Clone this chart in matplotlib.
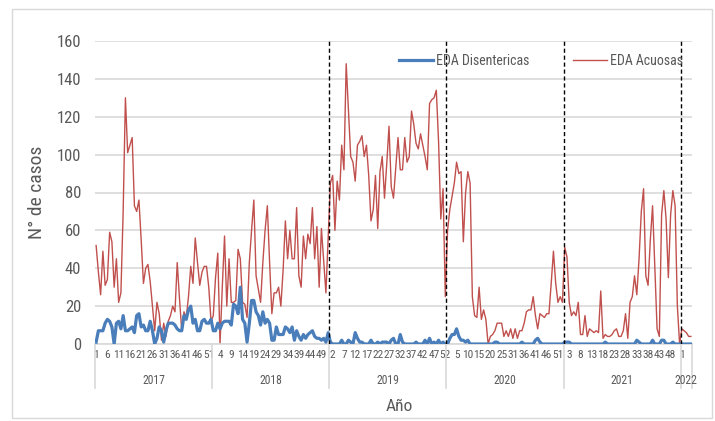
import numpy as np
import matplotlib
matplotlib.use("Agg")
import matplotlib.pyplot as plt
import matplotlib.transforms as mtransforms
from matplotlib import font_manager as fm
from matplotlib.patches import Rectangle

# weekly cases per year
years = ['2017', '2018', '2019', '2020', '2021', '2022']
weeks_2017 = list(range(1, 53))
weeks_2018 = list(range(1, 53))
weeks_2019 = list(range(1, 53))
weeks_2020 = list(range(1, 28)) + list(range(29, 54))
weeks_2021 = list(range(1, 53))
weeks_2022 = list(range(1, 6))

acuosas_2017 = [52, 38, 26, 49, 31, 34, 59, 54, 30, 45, 22, 27, 70, 130, 101, 105, 109, 73, 70, 76,
                55, 32, 40, 42, 33, 20, 7, 22, 16, 2, 11, 4, 12, 15, 20, 17, 43, 24, 7, 17,
                14, 25, 41, 32, 56, 43, 31, 38, 41, 41, 30, 12]
acuosas_2018 = [15, 35, 48, 0, 30, 57, 20, 45, 22, 22, 23, 50, 45, 22, 21, 14, 43, 60, 76, 36,
                29, 22, 43, 60, 73, 43, 16, 27, 27, 30, 20, 39, 65, 45, 60, 45, 45, 72, 36, 30,
                57, 45, 58, 53, 72, 45, 62, 30, 61, 44, 27, 56]
acuosas_2019 = [85, 89, 60, 86, 76, 105, 92, 148, 124, 99, 96, 86, 105, 107, 110, 99, 105, 89, 65, 71,
                89, 61, 91, 99, 77, 95, 115, 83, 77, 93, 109, 92, 92, 109, 96, 99, 123, 116, 106, 103,
                111, 105, 99, 92, 127, 129, 130, 134, 107, 66, 82, 25]
acuosas_2020 = [60, 71, 78, 85, 96, 90, 91, 54, 80, 91, 85, 25, 15, 14, 30, 13, 18, 13, 0, 4,
                5, 7, 11, 11, 11, 4, 7, 4, 8, 3, 8, 3, 7, 7, 11, 17, 18, 18, 25, 15,
                8, 16, 15, 14, 16, 16, 32, 49, 32, 22, 25, 22]
acuosas_2021 = [51, 46, 22, 15, 17, 15, 22, 5, 5, 15, 4, 8, 7, 6, 7, 6, 28, 3, 5, 4,
                4, 5, 7, 8, 4, 4, 7, 16, 3, 22, 25, 36, 26, 45, 70, 82, 36, 31, 55, 73,
                40, 8, 4, 68, 81, 66, 35, 68, 81, 73, 20, 0]
acuosas_2022 = [8, 7, 6, 4, 4]

disentericas_2017 = [1, 7, 7, 7, 11, 13, 12, 9, 0, 11, 12, 8, 15, 7, 7, 8, 9, 6, 15, 16,
                     9, 10, 7, 7, 12, 7, 0, 3, 9, 7, 1, 7, 11, 11, 11, 10, 8, 7, 7, 15,
                     13, 18, 20, 11, 13, 7, 7, 12, 13, 11, 11, 13]
disentericas_2018 = [7, 7, 11, 8, 11, 12, 12, 12, 10, 21, 20, 16, 30, 13, 11, 1, 11, 23, 23, 17,
                     15, 10, 17, 11, 13, 11, 2, 2, 9, 5, 5, 5, 9, 8, 6, 9, 2, 7, 4, 2,
                     5, 3, 5, 6, 7, 4, 3, 3, 2, 3, 1, 6]
disentericas_2019 = [1, 0, 0, 0, 0, 2, 0, 0, 2, 1, 0, 6, 3, 1, 1, 0, 0, 0, 2, 0,
                     0, 1, 0, 1, 1, 1, 0, 2, 3, 0, 0, 5, 1, 0, 0, 0, 0, 0, 1, 0,
                     0, 0, 2, 0, 3, 0, 1, 0, 2, 0, 1, 0]
disentericas_2020 = [0, 3, 5, 5, 8, 4, 2, 2, 1, 2, 0, 0, 0, 0, 0, 0, 0, 0, 0, 0,
                     0, 1, 1, 0, 0, 0, 0, 0, 0, 0, 0, 0, 0, 1, 0, 0, 0, 0, 0, 2,
                     3, 1, 0, 0, 0, 0, 0, 0, 0, 0, 0, 0]
disentericas_2021 = [1, 1, 1, 0, 0, 0, 0, 0, 0, 0, 0, 0, 0, 0, 0, 0, 0, 0, 1, 0,
                     0, 0, 0, 0, 0, 0, 0, 0, 0, 0, 0, 0, 2, 1, 0, 0, 0, 0, 0, 2,
                     0, 0, 0, 2, 2, 0, 0, 0, 1, 0, 0, 0]
disentericas_2022 = [0, 0, 0, 0, 0]


def narrow_font():
    # a condensed sans face if one is installed, else None
    fonts = fm.fontManager.ttflist
    for name in ['Liberation Sans Narrow', 'Roboto Condensed', 'Open Sans Condensed',
                 'Noto Sans Condensed', 'DejaVu Sans Condensed']:
        for f in fonts:
            if f.name == name and f.style == 'normal' and f.weight in (400, 'normal', 'regular'):
                return f.fname
    for f in fonts:
        if (f.stretch in ('condensed', 'semi-condensed') and f.style == 'normal'
                and f.weight in (400, 'normal', 'regular') and 'Mono' not in f.name
                and 'Serif' not in f.name and 'CJK' not in f.name):
            return f.fname
    return None


fname = narrow_font()
scale = 1.0 if fname else 0.86


def fp(size):
    if fname:
        return fm.FontProperties(fname=fname, size=size * scale)
    return fm.FontProperties(family=['Liberation Sans', 'DejaVu Sans'], size=size * scale)


week_lists = [weeks_2017, weeks_2018, weeks_2019, weeks_2020, weeks_2021, weeks_2022]
acuosas = np.concatenate([acuosas_2017, acuosas_2018, acuosas_2019,
                          acuosas_2020, acuosas_2021, acuosas_2022])
disentericas = np.concatenate([disentericas_2017, disentericas_2018, disentericas_2019,
                               disentericas_2020, disentericas_2021, disentericas_2022])
weeks = np.concatenate(week_lists)
n = len(weeks)
x = np.arange(n)

# year boundaries in category positions
sizes = [len(w) for w in week_lists]
starts = np.concatenate([[0], np.cumsum(sizes)]) - 0.5

txt = '#595959'
grid = '#d9d9d9'

fig = plt.figure(figsize=(7.15, 4.21), dpi=100)
fig.patches.append(Rectangle((12 / 715, 3 / 421), 700 / 715, 409 / 421, transform=fig.transFigure,
                             fill=False, edgecolor=grid, lw=1))
ax = fig.add_axes([95 / 715, 1 - 344 / 421, 597 / 715, 303 / 421])

ax.plot(x, disentericas, color='#4a7ebb', lw=2.3, label='EDA Disentericas', zorder=3)
ax.plot(x, acuosas, color='#c0504d', lw=1.0, label='EDA Acuosas', zorder=2)

ax.set_xlim(-0.5, n - 0.5)
ax.set_ylim(0, 160)
ax.set_yticks(range(0, 161, 20))
ax.yaxis.grid(True, color=grid, lw=1.2)
ax.set_axisbelow(True)
for s in ['top', 'right', 'left']:
    ax.spines[s].set_visible(False)
ax.spines['bottom'].set_color(grid)
ax.spines['bottom'].set_linewidth(1.2)
ax.tick_params(axis='y', length=0, pad=10, labelcolor=txt)
for lbl in ax.get_yticklabels():
    lbl.set_fontproperties(fp(12))

ticks = np.arange(0, n, 5)
ax.set_xticks(ticks)
ax.set_xticklabels([str(w) for w in weeks[ticks]])
ax.tick_params(axis='x', length=0, pad=4, labelcolor=txt)
for lbl in ax.get_xticklabels():
    lbl.set_fontproperties(fp(8.2))

# dashed separators between years
for b in starts[2:-1]:
    ax.axvline(b, color='black', lw=1.0, ls=(0, (3, 2)), zorder=4)

# year level of the category axis
trans = mtransforms.blended_transform_factory(ax.transData, ax.transAxes)
for b in starts:
    ax.plot([b, b], [0, -0.145], transform=trans, color=grid, lw=1.2, clip_on=False)
for i, yr in enumerate(years):
    ax.text((starts[i] + starts[i + 1]) / 2, -0.119, yr, transform=trans,
            ha='center', va='center', color=txt, fontproperties=fp(8.4))

ax.set_xlabel('Año', color=txt, fontproperties=fp(12.5))
ax.xaxis.set_label_coords(0.51, (344 - 399) / 303)
ax.set_ylabel('N° de casos', color=txt, fontproperties=fp(14))
ax.yaxis.set_label_coords((46 - 95) / 597, 0.5)

fig.legend(loc='center', bbox_to_anchor=(541 / 715, 1 - 61 / 421), ncol=2, frameon=False,
           prop=fp(10), labelcolor=txt, handlelength=2.4, handletextpad=0.2, columnspacing=3.2)

fig.savefig('out.png', dpi=100)
